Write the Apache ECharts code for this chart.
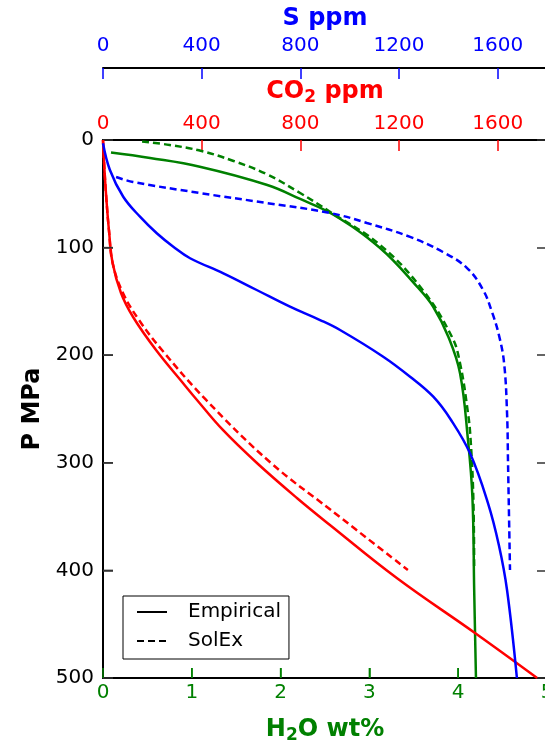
<!DOCTYPE html>
<html>
<head>
<meta charset="utf-8">
<script src="https://cdn.jsdelivr.net/npm/echarts@6/dist/echarts.min.js"></script>
<style>
  html, body { margin: 0; padding: 0; background: #fff; }
  #chart { width: 545px; height: 743px; }
</style>
</head>
<body>
<div id="chart"></div>
<script>
// pressure ticks (MPa), shared by every curve
const pTicks = [0, 100, 200, 300, 400, 500]
const h2oTicks = [0, 1, 2, 3, 4, 5]

// H2O wt% (bottom axis)
const h2oEmpP = [11.6, 16.7, 24.8, 41.8, 54.8, 69.7, 100.4, 136.6, 155.2, 183.1, 216.5, 278.8, 331.8, 418.2, 500]
const h2oEmp  = [0.09, 0.53, 1.09, 1.85, 2.22, 2.60, 3.12, 3.54, 3.72, 3.89, 4.02, 4.11, 4.16, 4.18, 4.20]
const h2oSolP = [1.4, 4.6, 10.2, 19.5, 31.6, 49.3, 66.9, 97.6, 139.4, 183.1, 207.2, 253.7, 278.8, 331.8, 399.6]
const h2oSol  = [0.44, 0.75, 1.11, 1.47, 1.84, 2.22, 2.56, 3.12, 3.60, 3.93, 4.02, 4.11, 4.14, 4.17, 4.18]

// CO2 ppm (inner top axis)
const co2EmpP = [0, 27.9, 55.8, 83.6, 114.3, 142.2, 164.5, 195.2, 225.8, 241.6, 269.5, 300.2, 332.7, 357.8, 407.1, 458.2, 500]
const co2Emp  = [0, 6, 14, 24, 39, 73, 122, 215, 324, 381, 486, 624, 786, 920, 1191, 1508, 1760]
const co2SolP = [0, 27.9, 55.8, 83.6, 114.3, 142.2, 167.3, 195.2, 241.6, 300.2, 343.9, 399.6]
const co2Sol  = [0, 6, 14, 24, 39, 81, 146, 239, 418, 681, 924, 1236]

// S ppm (outer top axis)
const sEmpP = [3.1, 27.9, 52.7, 71.3, 86.7, 99.2, 109.9, 123.9, 139.4, 154.9, 167.3, 176.6, 201.4, 220, 238.6, 260.2, 291.2, 337.6, 376.6, 418.2, 500]
const sEmp  = [0, 28, 82, 150, 218, 285, 353, 488, 623, 758, 880, 961, 1136, 1245, 1339, 1411, 1488, 1561, 1605, 1638, 1678]
const sSolP = [34.4, 39, 49.3, 58.6, 67.8, 77.1, 90.1, 104.1, 119, 139.4, 159.9, 181.2, 207.2, 253.7, 300.2, 399.6]
const sSol  = [53, 122, 393, 665, 920, 1070, 1245, 1378, 1476, 1541, 1577, 1605, 1626, 1638, 1642, 1650]

const legendNames = ["Empirical", "SolEx"]

const GREEN = "#008000"
const RED = "#ff0000"
const BLUE = "#0000ff"
const FONT = "DejaVu Sans"

function pairs(xs, ps) {
  return xs.map((x, i) => [x, ps[i]])
}

function curve(name, data, xIdx, color, dashed) {
  return {
    name: name,
    type: "line",
    xAxisIndex: xIdx,
    yAxisIndex: 0,
    data: data,
    showSymbol: false,
    symbol: "none",
    smooth: 0.4,
    color: color,
    lineStyle: { color: color, width: 2.5, type: dashed ? [7, 4] : "solid" },
    z: 3
  }
}

// inward tick marks on the bottom and left borders, placed through the axes' scales
function tickMarks(values, alongX, color) {
  return {
    type: "custom",
    xAxisIndex: 0,
    yAxisIndex: 0,
    silent: true,
    clip: false,
    z: 4,
    data: values.map(v => [v]),
    renderItem: function (params, api) {
      const v = api.value(0)
      const p = alongX ? api.coord([v, 500]) : api.coord([0, v])
      return {
        type: "line",
        shape: alongX
          ? { x1: p[0], y1: p[1], x2: p[0], y2: p[1] - 10 }
          : { x1: p[0], y1: p[1], x2: p[0] + 10, y2: p[1] },
        style: { stroke: color, lineWidth: 1.5 }
      }
    }
  }
}

function subName(a, b, c, color) {
  return {
    text: "{b|" + a + "}{s|" + b + "}{b|" + c + "}",
    style: {
      color: color,
      fontFamily: FONT,
      fontWeight: "bold",
      fontSize: 24,
      rich: {
        b: { color: color, fontFamily: FONT, fontWeight: "bold", fontSize: 24 },
        s: { color: color, fontFamily: FONT, fontWeight: "bold", fontSize: 17, padding: [11, 0, 0, 0] }
      }
    }
  }
}

const plain = v => String(v)

function ticks(color, len) {
  return { show: true, inside: true, length: len, lineStyle: { color: color, width: 1.5 } }
}

const chart = echarts.init(document.getElementById("chart"))

const h2oName = subName("H", "2", "O wt%", GREEN)
const co2Name = subName("CO", "2", " ppm", RED)

chart.setOption({
  animation: false,
  backgroundColor: "#fff",
  grid: { left: 103, top: 140, width: 444, height: 538, outerBoundsMode: "none", containLabel: false },
  legend: {
    data: legendNames,
    orient: "vertical",
    left: 123,
    top: 596,
    padding: [6, 8, 8, 13],
    itemGap: 9,
    itemWidth: 30,
    itemHeight: 14,
    selectedMode: false,
    backgroundColor: "#fff",
    borderColor: "#000",
    borderWidth: 1,
    itemStyle: { color: "rgba(0,0,0,0)", borderWidth: 0, opacity: 0 },
    textStyle: { fontFamily: FONT, fontSize: 20, color: "#000", padding: [0, 0, 0, 16] }
  },
  xAxis: [
    {
      type: "value", position: "bottom", min: 0, max: 5, interval: 1,
      axisLine: { show: true, onZero: false, lineStyle: { color: "#000", width: 2 } },
      axisTick: ticks(GREEN, 10),
      axisLabel: { color: GREEN, fontFamily: FONT, fontSize: 20, margin: 5, formatter: plain },
      splitLine: { show: false },
      name: h2oName.text, nameLocation: "middle", nameGap: 38,
      nameTextStyle: h2oName.style
    },
    {
      type: "value", position: "top", min: 0, max: 1800, interval: 400,
      axisLine: { show: true, onZero: false, lineStyle: { color: "#000", width: 2 } },
      axisTick: ticks(RED, 11),
      axisLabel: { color: RED, fontFamily: FONT, fontSize: 20, margin: 6, showMaxLabel: false, formatter: plain },
      splitLine: { show: false },
      name: co2Name.text, nameLocation: "middle", nameGap: 34,
      nameTextStyle: co2Name.style
    },
    {
      type: "value", position: "top", offset: 72, min: 0, max: 1800, interval: 400,
      axisLine: { show: true, onZero: false, lineStyle: { color: "#000", width: 2 } },
      axisTick: ticks(BLUE, 11),
      axisLabel: { color: BLUE, fontFamily: FONT, fontSize: 20, margin: 12, showMaxLabel: false, formatter: plain },
      splitLine: { show: false },
      name: "S ppm", nameLocation: "middle", nameGap: 37,
      nameTextStyle: { color: BLUE, fontFamily: FONT, fontWeight: "bold", fontSize: 24 }
    }
  ],
  yAxis: [
    {
      type: "value", position: "left", inverse: true,
      min: pTicks[0], max: pTicks[pTicks.length - 1], interval: 100,
      axisLine: { show: true, onZero: false, lineStyle: { color: "#000", width: 2 } },
      axisTick: ticks("#333", 10),
      axisLabel: { color: "#000", fontFamily: FONT, fontSize: 20, margin: 9 },
      splitLine: { show: false },
      name: "P MPa", nameLocation: "middle", nameGap: 58,
      nameTextStyle: { color: "#000", fontFamily: FONT, fontWeight: "bold", fontSize: 24 }
    },
    {
      type: "value", position: "right", inverse: true,
      min: pTicks[0], max: pTicks[pTicks.length - 1], interval: 100,
      axisLine: { show: true, onZero: false, lineStyle: { color: "#000", width: 2 } },
      axisTick: ticks("#333", 10),
      axisLabel: { show: false },
      splitLine: { show: false }
    }
  ],
  series: [
    curve("H2O Empirical", pairs(h2oEmp, h2oEmpP), 0, GREEN, false),
    curve("H2O SolEx", pairs(h2oSol, h2oSolP), 0, GREEN, true),
    curve("CO2 Empirical", pairs(co2Emp, co2EmpP), 1, RED, false),
    curve("CO2 SolEx", pairs(co2Sol, co2SolP), 1, RED, true),
    curve("S Empirical", pairs(sEmp, sEmpP), 2, BLUE, false),
    curve("S SolEx", pairs(sSol, sSolP), 2, BLUE, true),
    curve(legendNames[0], [], 0, "#000", false),
    curve(legendNames[1], [], 0, "#000", true),
    tickMarks(h2oTicks.slice(1, -1), true, GREEN),
    tickMarks(pTicks.slice(1, -1), false, "#333")
  ]
})
</script>
</body>
</html>
